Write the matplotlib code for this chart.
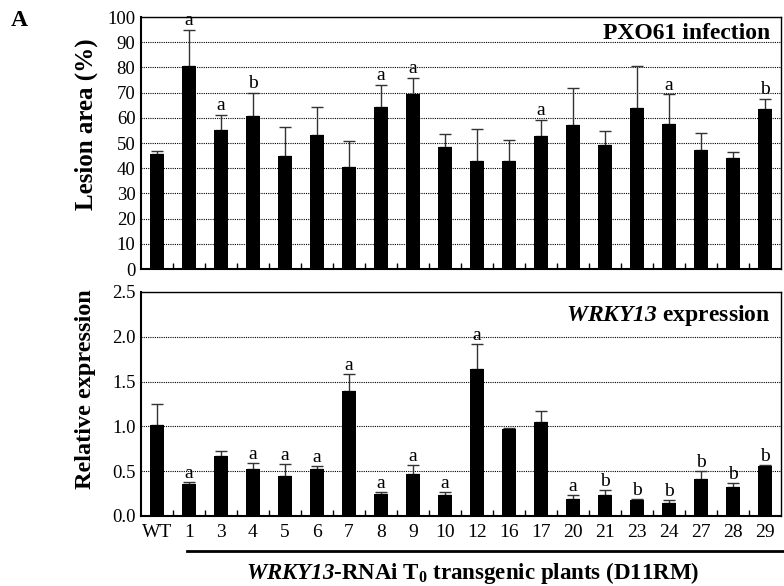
import numpy as np
import matplotlib
matplotlib.use("Agg")
import matplotlib.pyplot as plt
from matplotlib.lines import Line2D

plt.rcParams['font.family'] = ['Liberation Serif', 'DejaVu Serif']
plt.rcParams['mathtext.fontset'] = 'custom'
# rm em italico-negrito para que os digitos de WRKY13 fiquem inclinados
plt.rcParams['mathtext.rm'] = 'Liberation Serif:italic:bold'
plt.rcParams['mathtext.it'] = 'Liberation Serif:italic:bold'
plt.rcParams['mathtext.bf'] = 'Liberation Serif:bold'

## dados
lines = ['WT', '1', '3', '4', '5', '6', '7', '8', '9', '10', '12', '16', '17',
         '20', '21', '23', '24', '27', '28', '29']

lesion = [45.7, 80.4, 55.2, 60.9, 44.8, 53.3, 40.5, 64.2, 69.3, 48.5, 42.9, 43.0,
          52.9, 57.2, 49.2, 63.7, 57.6, 47.2, 44.0, 63.5]
lesion_err = [1.0, 14.6, 6.0, 9.0, 11.7, 10.9, 10.1, 9.0, 6.6, 5.2, 12.8, 8.0,
              6.3, 14.6, 5.4, 16.7, 11.7, 6.6, 2.6, 4.1]
lesion_sig = ['', 'a', 'a', 'b', '', '', '', 'a', 'a', '', '', '', 'a',
              '', '', '', 'a', '', '', 'b']

expr = [1.02, 0.36, 0.67, 0.53, 0.45, 0.53, 1.40, 0.25, 0.47, 0.23, 1.64, 0.97,
        1.05, 0.19, 0.23, 0.175, 0.15, 0.41, 0.32, 0.556]
expr_err = [0.23, 0.02, 0.05, 0.06, 0.13, 0.03, 0.18, 0.02, 0.10, 0.04, 0.28, 0.01,
            0.12, 0.04, 0.06, 0.015, 0.03, 0.09, 0.05, 0.01]
expr_sig = ['', 'a', '', 'a', 'a', 'a', 'a', 'a', 'a', 'a', 'a', '', '',
            'a', 'b', 'b', 'b', 'b', 'b', 'b']

x = np.arange(len(lines))
fig = plt.figure(figsize=(7.84, 5.86), dpi=100)

ax1 = fig.add_axes([141/784, 1-269/586, 640/784, 252/586])
ax2 = fig.add_axes([141/784, 1-516/586, 640/784, 224/586])


def painel(ax, vals, errs, sig, ymax, step, fmt, off):
    ax.bar(x, vals, width=0.45, color='black', zorder=3)
    ax.errorbar(x, vals, yerr=[np.zeros(len(vals)), errs], fmt='none',
                ecolor='#333333', elinewidth=1, capsize=4, capthick=1, zorder=2)
    for i in range(len(vals)):
        if sig[i] != '':
            ax.text(x[i], vals[i] + errs[i] + off, sig[i], ha='center', va='bottom',
                    fontsize=14)
    ax.set_xlim(-0.5, len(vals) - 0.5)
    ax.set_ylim(0, ymax)
    yt = np.arange(0, ymax + step / 2, step)
    ax.set_yticks(yt)
    ax.set_yticklabels([fmt % v for v in yt], fontsize=13.5)
    ax.yaxis.grid(True, linestyle=(0, (1, 1)), color='black', linewidth=0.8)
    ax.set_axisbelow(True)
    ax.set_xticks(x)
    ax.set_xticks(np.arange(0.5, len(vals) - 0.5, 1), minor=True)
    ax.tick_params(axis='x', which='major', length=0, pad=6)
    ax.tick_params(axis='x', which='minor', direction='in', length=4, width=1)
    ax.tick_params(axis='y', length=0, pad=4)
    for s in ax.spines.values():
        s.set_linewidth(1.0)
    ax.spines['left'].set_linewidth(1.5)
    ax.spines['bottom'].set_linewidth(1.5)


painel(ax1, lesion, lesion_err, lesion_sig, 100, 10, '%d', 0.3)
painel(ax2, expr, expr_err, expr_sig, 2.5, 0.5, '%.1f', 0.0)
ax1.set_xticklabels([])
ax2.set_xticklabels(lines, fontsize=14)

ax1.text(0.983, 0.935, 'PXO61 infection', transform=ax1.transAxes, ha='right',
         va='center', fontsize=17, fontweight='bold')
ax2.text(0.983, 0.893, r'$\mathrm{WRKY13}$ expression', transform=ax2.transAxes,
         ha='right', va='center', fontsize=17, fontweight='bold')

fig.text(86/784, 1-124/586, 'Lesion area (%)', rotation=90, ha='center', va='center',
         fontsize=18, fontweight='bold')
fig.text(86/784, 1-389/586, 'Relative expression', rotation=90, ha='center',
         va='center', fontsize=17.5, fontweight='bold')
fig.text(11/784, 1-20/586, 'A', ha='left', va='center', fontsize=17, fontweight='bold')

fig.add_artist(Line2D([187/784, 783/784], [1-551/586, 1-551/586], color='black',
                      linewidth=2))
fig.text(473/784, 1-573/586,
         r'$\mathrm{WRKY13}$-RNAi T$_\mathbf{0}$ transgenic plants (D11RM)',
         ha='center', va='center', fontsize=16.5, fontweight='bold')

fig.savefig('out.png', dpi=100)
